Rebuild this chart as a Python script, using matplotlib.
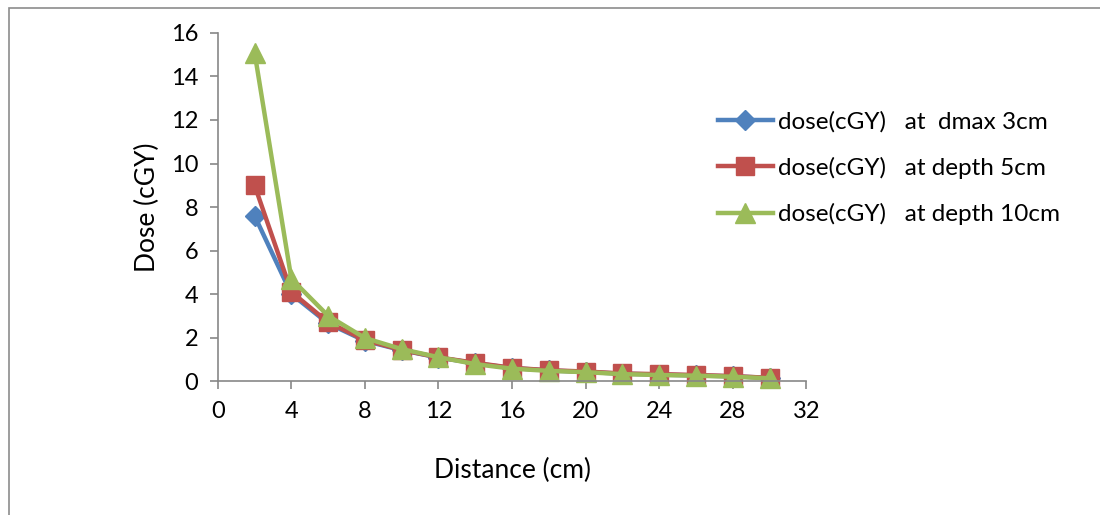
import matplotlib.pyplot as plt
from matplotlib.patches import Rectangle

# distance (cm)
distance = [2, 4, 6, 8, 10, 12, 14, 16, 18, 20, 22, 24, 26, 28, 30]

# dose values
dose_dmax_3cm = [7.6, 4.0, 2.65, 1.85, 1.42, 1.08, 0.82, 0.6, 0.49, 0.42, 0.34, 0.3, 0.26, 0.22, 0.15]
dose_depth_5cm = [9.0, 4.1, 2.7, 1.89, 1.43, 1.09, 0.84, 0.61, 0.5, 0.44, 0.35, 0.32, 0.28, 0.23, 0.15]
dose_depth_10cm = [15.1, 4.7, 3.0, 1.98, 1.47, 1.1, 0.78, 0.57, 0.47, 0.41, 0.32, 0.28, 0.25, 0.2, 0.13]

labels = ['dose(cGY)   at  dmax 3cm', 'dose(cGY)   at depth 5cm', 'dose(cGY)   at depth 10cm']

plt.rcParams['font.family'] = ['Lato', 'DejaVu Sans']

fig = plt.figure(figsize=(11, 5.15), dpi=100)
ax = fig.add_axes([0.198, 0.26, 0.535, 0.676])

# outer chart border
fig.patches.append(Rectangle((0.008, -0.05), 1.2, 1.035, transform=fig.transFigure,
                             fill=False, edgecolor='#8c8c8c', linewidth=1.2))

ax.plot(distance, dose_dmax_3cm, color='#4F81BD', lw=3.2, marker='D', ms=10,
        label=labels[0], clip_on=False)
ax.plot(distance, dose_depth_5cm, color='#C0504D', lw=3.2, marker='s', ms=13,
        label=labels[1], clip_on=False)
ax.plot(distance, dose_depth_10cm, color='#9BBB59', lw=3.2, marker='^', ms=14,
        label=labels[2], clip_on=False)

ax.set_xlim(0, 32)
ax.set_ylim(0, 16)
ax.set_xticks(range(0, 33, 4))
ax.set_yticks(range(0, 17, 2))
ax.tick_params(labelsize=17, color='#878787', length=6, width=1.2, pad=8)
for s in ['top', 'right']:
    ax.spines[s].set_visible(False)
for s in ['left', 'bottom']:
    ax.spines[s].set_color('#878787')
    ax.spines[s].set_linewidth(1.2)

ax.set_xlabel('Distance (cm)', fontsize=19, labelpad=26)
ax.set_ylabel('Dose (cGY)', fontsize=19, labelpad=8)

ax.legend(loc='center left', bbox_to_anchor=(0.85, 0.612), frameon=False,
          borderpad=0, borderaxespad=0,
          fontsize=17.5, handlelength=2.25, handletextpad=0.2, labelspacing=1.0)

fig.savefig('out.png', dpi=100)
